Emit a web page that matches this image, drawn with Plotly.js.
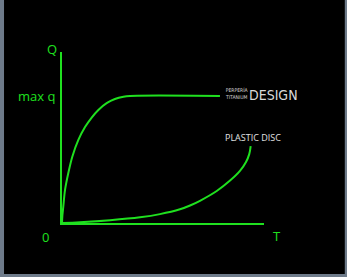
<!DOCTYPE html>
<html>
<head>
<meta charset="utf-8">
<script src="https://cdn.plot.ly/plotly-3.0.1.min.js"></script>
<style>html,body{margin:0;padding:0;background:#6e7b8a;}#chart{width:347px;height:277px;}</style>
</head>
<body>
<div id="chart"></div>
<script>
// Titanium curve (heat flux Q vs temperature T, normalised to max q)
const titaniumT = [0, 0.02, 0.064, 0.15, 0.31, 0.51, 0.81, 1.14, 1.47, 1.80, 2.21, 2.62, 3.04, 3.37, 7.82];
const titaniumQ = [0, 0.06, 0.128, 0.26, 0.391, 0.522, 0.654, 0.755, 0.830, 0.890, 0.943, 0.976, 0.994, 1.0, 1.0];
// Plastic disc curve
const plasticT = [0, 0.89, 2.38, 3.86, 4.85, 5.84, 6.34, 6.83, 7.66, 8.32, 8.81, 9.11, 9.27, 9.34];
const plasticQ = [0, 0.006, 0.022, 0.045, 0.070, 0.108, 0.138, 0.175, 0.252, 0.334, 0.410, 0.480, 0.542, 0.606];

const green = '#1fe01f';
const lineStyle = {color: green, width: 2, shape: 'spline', smoothing: 1.0};

const data = [
  {x: titaniumT, y: titaniumQ, mode: 'lines', line: lineStyle, hoverinfo: 'skip'},
  {x: plasticT, y: plasticQ, mode: 'lines', line: lineStyle, hoverinfo: 'skip'}
];

const textFont = {family: 'Open Sans, sans-serif', size: 13, color: green};

const layout = {
  width: 347, height: 277,
  margin: {l: 62, r: 83, t: 52, b: 54},
  paper_bgcolor: '#6e7b8a',
  plot_bgcolor: 'rgba(0,0,0,0)',
  showlegend: false,
  xaxis: {range: [0, 10], showgrid: false, zeroline: false, showline: true,
          linecolor: green, linewidth: 2, showticklabels: false, ticks: '', fixedrange: true},
  yaxis: {range: [0, 1.346], showgrid: false, zeroline: false, showline: true,
          linecolor: green, linewidth: 2, showticklabels: false, ticks: '', fixedrange: true},
  shapes: [
    {type: 'rect', xref: 'paper', yref: 'paper', x0: -0.287, x1: 1.40, y0: -0.298, y1: 1.31,
     fillcolor: '#000000', line: {width: 0}, layer: 'below'}
  ],
  annotations: [
    {xref: 'paper', yref: 'paper', x: -0.085, y: 1.08, text: 'Q', showarrow: false, font: textFont},
    {xref: 'x', yref: 'y', x: 0, y: 1.0, xanchor: 'right', xshift: -5, text: 'max q', showarrow: false, font: textFont},
    {xref: 'x', yref: 'y', x: 0, y: 0, xanchor: 'right', yanchor: 'top', xshift: -11, yshift: -3, text: '0', showarrow: false, font: textFont},
    {xref: 'x', yref: 'y', x: 10, y: 0, xanchor: 'left', yanchor: 'top', xshift: 7, yshift: -2, text: 'T', showarrow: false, font: textFont},
    {xref: 'x', yref: 'y', x: 7.95, y: 1.0, xanchor: 'left', xshift: 0, yshift: 2, text: 'PERPERÍA<br>TITANIUM',
     showarrow: false, font: {family: 'Liberation Sans Narrow, DejaVu Sans Condensed, sans-serif', size: 5, color: '#d8d8d8'}},
    {xref: 'x', yref: 'y', x: 9.15, y: 1.0, xanchor: 'left', xshift: 0, yshift: 1, text: 'DESIGN',
     showarrow: false, font: {family: 'Liberation Sans Narrow, DejaVu Sans Condensed, sans-serif', size: 14, color: '#d8d8d8'}},
    {xref: 'x', yref: 'y', x: 7.95, y: 0.675, xanchor: 'left', text: 'PLASTIC DISC',
     showarrow: false, font: {family: 'Open Sans, sans-serif', size: 9, color: '#e0e0e0'}}
  ]
};

Plotly.newPlot('chart', data, layout, {displayModeBar: false, staticPlot: true});
</script>
</body>
</html>
